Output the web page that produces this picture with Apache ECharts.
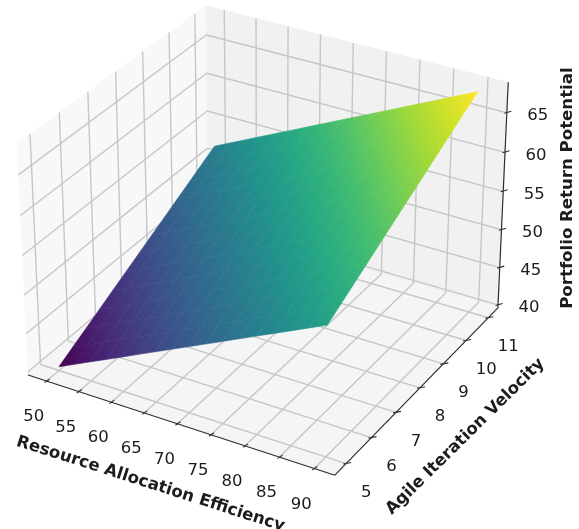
<!DOCTYPE html>
<html><head><meta charset="utf-8">
<style>html,body{margin:0;padding:0;background:#fff;overflow:hidden}#c{width:579px;height:529px;filter:blur(0.45px)}</style>
<script src="https://cdn.jsdelivr.net/npm/echarts@6/dist/echarts.min.js"></script>
</head><body><div id="c"></div>
<script>
const xTitle = 'Resource Allocation Efficiency';
const yTitle = 'Agile Iteration Velocity';
const zTitle = 'Portfolio Return Potential';
const xTicks = [50,55,60,65,70,75,80,85,90];
const yTicks = [5,6,7,8,9,10,11];
const zTicks = [40,45,50,55,60,65];
const xGrid = [50,52.5,55,57.5,60,62.5,65,67.5,70,72.5,75,77.5,80,82.5,85,87.5,90];
const yGrid = [5,5.5,6,6.5,7,7.5,8,8.5,9,9.5,10,10.5,11];
const zRow0 = [40.1,41.1,42.1,43.1,44.1,45.1,46.1,47.1,48.1,49.1,50.1,51.1,52.1,53.1,54.1,55.1,56.1];
const zRow1 = [41.1,42.1,43.1,44.1,45.1,46.1,47.1,48.1,49.1,50.1,51.1,52.1,53.1,54.1,55.1,56.1,57.1];
const zRow2 = [42.1,43.1,44.1,45.1,46.1,47.1,48.1,49.1,50.1,51.1,52.1,53.1,54.1,55.1,56.1,57.1,58.1];
const zRow3 = [43.1,44.1,45.1,46.1,47.1,48.1,49.1,50.1,51.1,52.1,53.1,54.1,55.1,56.1,57.1,58.1,59.1];
const zRow4 = [44.1,45.1,46.1,47.1,48.1,49.1,50.1,51.1,52.1,53.1,54.1,55.1,56.1,57.1,58.1,59.1,60.1];
const zRow5 = [45.1,46.1,47.1,48.1,49.1,50.1,51.1,52.1,53.1,54.1,55.1,56.1,57.1,58.1,59.1,60.1,61.1];
const zRow6 = [46.1,47.1,48.1,49.1,50.1,51.1,52.1,53.1,54.1,55.1,56.1,57.1,58.1,59.1,60.1,61.1,62.1];
const zRow7 = [47.1,48.1,49.1,50.1,51.1,52.1,53.1,54.1,55.1,56.1,57.1,58.1,59.1,60.1,61.1,62.1,63.1];
const zRow8 = [48.1,49.1,50.1,51.1,52.1,53.1,54.1,55.1,56.1,57.1,58.1,59.1,60.1,61.1,62.1,63.1,64.1];
const zRow9 = [49.1,50.1,51.1,52.1,53.1,54.1,55.1,56.1,57.1,58.1,59.1,60.1,61.1,62.1,63.1,64.1,65.1];
const zRow10 = [50.1,51.1,52.1,53.1,54.1,55.1,56.1,57.1,58.1,59.1,60.1,61.1,62.1,63.1,64.1,65.1,66.1];
const zRow11 = [51.1,52.1,53.1,54.1,55.1,56.1,57.1,58.1,59.1,60.1,61.1,62.1,63.1,64.1,65.1,66.1,67.1];
const zRow12 = [52.1,53.1,54.1,55.1,56.1,57.1,58.1,59.1,60.1,61.1,62.1,63.1,64.1,65.1,66.1,67.1,68.1];
const zRows = [zRow0,zRow1,zRow2,zRow3,zRow4,zRow5,zRow6,zRow7,zRow8,zRow9,zRow10,zRow11,zRow12];

const xLim = [47.08,92.92], yLim = [4.56,11.44], zLim = [39.6,68.8];
const viridis = ['#440154','#482878','#3e4989','#31688e','#26828e','#1f9e89','#35b779','#6ece58','#b5de2b','#fde725'];
const scale = 2954, cx = 267.3, cy = 229.1;
const W = 579, H = 529;

function norm(v, lim){ return 2*(v-lim[0])/(lim[1]-lim[0]) - 1; }
function project(x,y,z){
  const px = 0.595*norm(x,xLim), py = 0.595*norm(y,yLim), pz = 0.4465*norm(z,zLim);
  const u = 0.866*px + 0.5*py;
  const v = -0.25*px + 0.433*py + 0.866*pz;
  const w = 0.433*px - 0.75*py + 0.5*pz;
  const d = 10 - w;
  return [u/d, v/d];
}
const zAll = zRows.flat();
const zMin = Math.min(...zAll), zMax = Math.max(...zAll);
function hex(c){ return [1,3,5].map(i=>parseInt(c.substr(i,2),16)); }
function colorAt(z){
  const t = Math.max(0,Math.min(1,(z-zMin)/(zMax-zMin)))*(viridis.length-1);
  const i = Math.min(viridis.length-2,Math.floor(t)), f = t-i;
  const a = hex(viridis[i]), b = hex(viridis[i+1]);
  return 'rgb('+a.map((v,k)=>Math.round(v+(b[k]-v)*f)).join(',')+')';
}
const GRID='#c6c6c6', AX='#2e2e2e', TXT='#1c1c1c';
function line(a,b,color,w){ return {type:'line',shape:{x1:a[0],y1:a[1],x2:b[0],y2:b[1]},style:{stroke:color,lineWidth:w}}; }
function label(text,p,font,rot){ return {type:'text',x:p[0],y:p[1],rotation:rot||0,style:{text:text,font:font,fill:TXT,align:'center',verticalAlign:'middle'}}; }
function shift(p,d){ return [p[0]+d[0],p[1]+d[1]]; }

function renderFrame(params, api){
  const P=(x,y,z)=>api.coord(project(x,y,z));
  const [x0,x1]=xLim,[y0,y1]=yLim,[z0,z1]=zLim;
  const poly=(pts,c)=>({type:'polygon',shape:{points:pts},style:{fill:c,stroke:c,lineWidth:0.5}});
  const ch=[
    poly([P(x0,y0,z0),P(x0,y1,z0),P(x0,y1,z1),P(x0,y0,z1)],'#f8f8f8'),
    poly([P(x0,y1,z0),P(x1,y1,z0),P(x1,y1,z1),P(x0,y1,z1)],'#f1f1f1'),
    poly([P(x0,y0,z0),P(x1,y0,z0),P(x1,y1,z0),P(x0,y1,z0)],'#f5f5f5')
  ];
  xTicks.forEach(t=>{ ch.push(line(P(t,y0,z0),P(t,y1,z0),GRID,1.4)); ch.push(line(P(t,y1,z0),P(t,y1,z1),GRID,1.4)); });
  yTicks.forEach(t=>{ ch.push(line(P(x0,t,z0),P(x1,t,z0),GRID,1.4)); ch.push(line(P(x0,t,z0),P(x0,t,z1),GRID,1.4)); });
  zTicks.forEach(t=>{ ch.push(line(P(x0,y0,t),P(x0,y1,t),GRID,1.4)); ch.push(line(P(x0,y1,t),P(x1,y1,t),GRID,1.4)); });
  return {type:'group',children:ch};
}
function renderCell(params, api){
  const i=api.value(0), j=api.value(1);
  const za=zRows[j][i], zb=zRows[j][i+1], zc=zRows[j+1][i+1], zd=zRows[j+1][i];
  const a=api.coord(project(xGrid[i],yGrid[j],za)), b=api.coord(project(xGrid[i+1],yGrid[j],zb)),
        c=api.coord(project(xGrid[i+1],yGrid[j+1],zc)), d=api.coord(project(xGrid[i],yGrid[j+1],zd));
  const dx1=b[0]-a[0],dy1=b[1]-a[1],dz1=zb-za,dx2=d[0]-a[0],dy2=d[1]-a[1],dz2=zd-za;
  const det=dx1*dy2-dx2*dy1;
  const gx=(dz1*dy2-dz2*dy1)/det, gy=(dx1*dz2-dx2*dz1)/det, gg=gx*gx+gy*gy;
  const lo=Math.min(za,zb,zc,zd), hi=Math.max(za,zb,zc,zd);
  const grad=new echarts.graphic.LinearGradient(
    a[0]+gx*(lo-za)/gg, a[1]+gy*(lo-za)/gg, a[0]+gx*(hi-za)/gg, a[1]+gy*(hi-za)/gg,
    [{offset:0,color:colorAt(lo)},{offset:1,color:colorAt(hi)}], true);
  return {type:'polygon',shape:{points:[a,b,c,d]},style:{fill:grad,stroke:grad,lineWidth:0.6}};
}
function renderAxes(params, api){
  const P=(x,y,z)=>api.coord(project(x,y,z));
  const [x0,x1]=xLim,[y0,y1]=yLim,[z0,z1]=zLim;
  const ch=[line(P(x0,y0,z0),P(x1,y0,z0),AX,1.2),line(P(x1,y0,z0),P(x1,y1,z0),AX,1.2),line(P(x1,y1,z0),P(x1,y1,z1),AX,1.2)];
  const F='16.5px "DejaVu Sans"', B='bold 16.6px "DejaVu Sans"';
  xTicks.forEach(t=>{const p=P(t,y0,z0); ch.push(line(shift(p,[-2,1.5]),shift(p,[3,-2]),AX,1.1)); ch.push(label(String(t),shift(p,[-13,36]),F));});
  yTicks.forEach(t=>{const p=P(x1,t,z0); ch.push(line(shift(p,[-3,0.5]),shift(p,[5,-1]),AX,1.1)); ch.push(label(String(t),shift(p,[20,29]),F));});
  zTicks.forEach(t=>{const p=P(x1,y1,t); ch.push(line(shift(p,[-2.5,0.5]),shift(p,[4.5,-1.5]),AX,1.1)); ch.push(label(String(t),shift(p,[31,3]),F));});
  const mid=(a,b)=>[(a[0]+b[0])/2,(a[1]+b[1])/2];
  ch.push(label(xTitle,shift(mid(P(x0,y0,z0),P(x1,y0,z0)),[-31,59]),B,-0.31));
  ch.push(label(yTitle,shift(mid(P(x1,y0,z0),P(x1,y1,z0)),[49,45]),B,0.778));
  ch.push(label(zTitle,shift(mid(P(x1,y1,z0),P(x1,y1,z1)),[65,-7]),B,Math.PI/2));
  return {type:'group',children:ch};
}
const cells=[];
for(let j=0;j<yGrid.length-1;j++) for(let i=0;i<xGrid.length-1;i++) cells.push([i,j]);
const common={type:'custom',coordinateSystem:'cartesian2d',clip:false,silent:true,animation:false};
const chart=echarts.init(document.getElementById('c'),null,{renderer:'canvas'});
chart.setOption({
  animation:false,
  backgroundColor:'#ffffff',
  grid:{left:0,right:0,top:0,bottom:0,containLabel:false},
  xAxis:{type:'value',show:false,min:-cx/scale,max:(W-cx)/scale},
  yAxis:{type:'value',show:false,min:(cy-H)/scale,max:cy/scale},
  tooltip:{show:false},
  series:[
    Object.assign({},common,{name:'frame',data:[[0,0]],renderItem:renderFrame,z:1}),
    Object.assign({},common,{name:'surface',data:cells,renderItem:renderCell,z:2}),
    Object.assign({},common,{name:'axes',data:[[0,0]],renderItem:renderAxes,z:3})
  ]
});
</script></body></html>
